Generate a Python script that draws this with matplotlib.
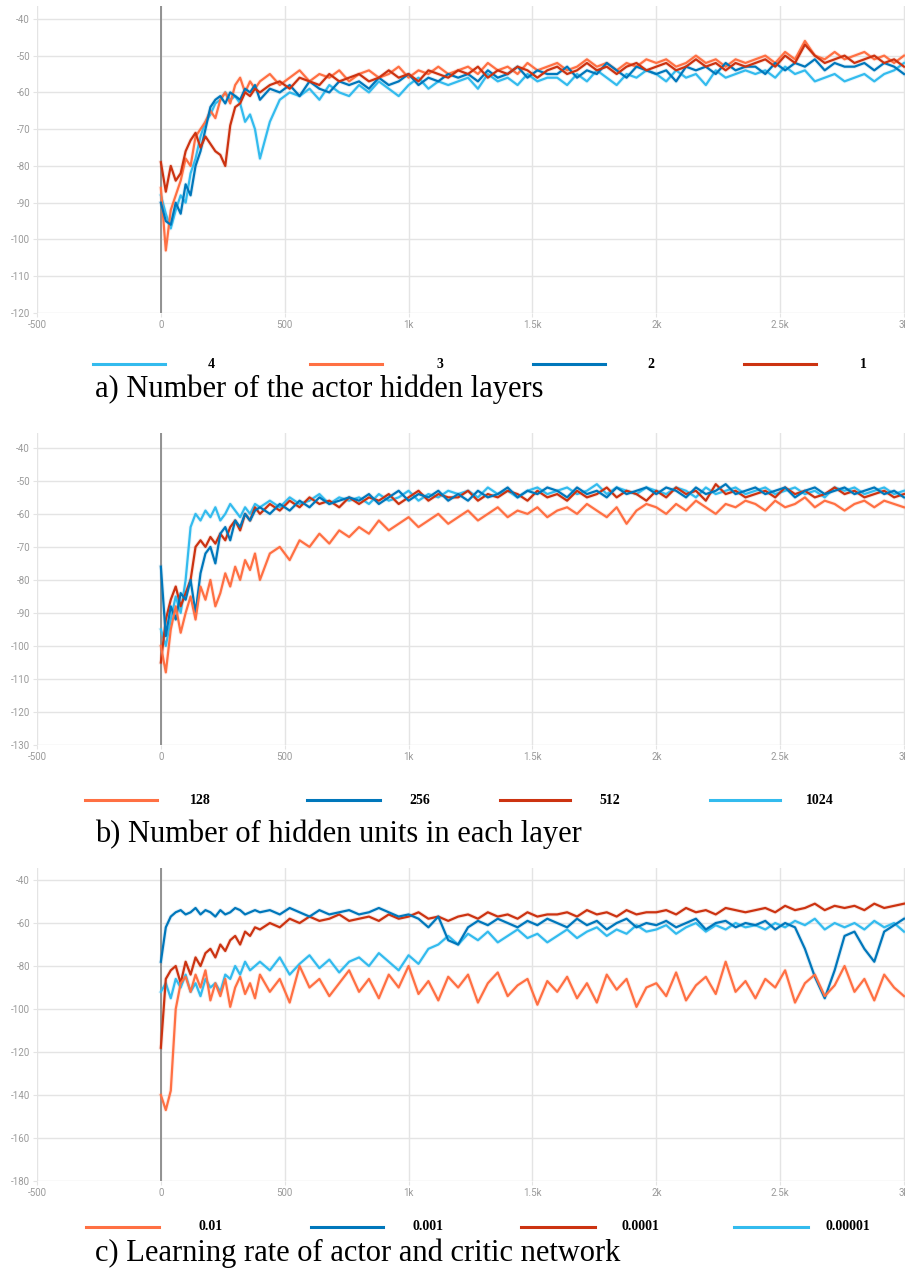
import numpy as np
import matplotlib
matplotlib.use("Agg")
import matplotlib.pyplot as plt
from matplotlib.lines import Line2D

# training steps (dense at start, then every 40 steps)
steps = np.r_[np.arange(0, 400, 20), np.arange(400, 3001, 40)]

# ---- a) number of actor hidden layers ----
a_labels = ["4", "3", "2", "1"]
a_layers4 = [-88, -93, -97, -92, -88, -90, -82, -78, -72, -68, -66, -63, -62, -60, -62, -61, -63, -68, -66, -70,
             -78, -68, -62, -60, -61, -59, -62, -58, -60, -61,
             -58, -60, -57, -59, -61, -58, -56, -59, -57, -58,
             -57, -56, -59, -55, -57, -56, -58, -55, -57, -56,
             -56, -58, -55, -57, -54, -56, -58, -55, -56, -54,
             -55, -57, -54, -56, -55, -58, -54, -56, -55, -54,
             -55, -54, -56, -53, -55, -54, -57, -56, -55, -57,
             -56, -55, -57, -55, -54, -52]
a_layers3 = [-86, -103, -92, -88, -84, -78, -80, -72, -70, -68, -65, -67, -62, -60, -63, -58, -56, -60, -57, -59,
             -57, -55, -58, -56, -54, -57, -55, -56, -54, -57,
             -55, -54, -56, -55, -53, -56, -54, -55, -53, -55,
             -54, -53, -55, -52, -54, -53, -55, -52, -54, -53,
             -52, -54, -53, -51, -53, -52, -54, -52, -53, -51,
             -52, -51, -53, -52, -50, -52, -51, -53, -51, -52,
             -51, -50, -52, -49, -51, -46, -50, -51, -49, -51,
             -50, -49, -51, -50, -52, -50]
a_layers2 = [-90, -95, -96, -90, -93, -85, -88, -80, -76, -70, -64, -62, -61, -63, -60, -61, -62, -59, -60, -58,
             -62, -59, -60, -58, -61, -57, -59, -60, -57, -58,
             -57, -59, -56, -58, -57, -55, -58, -56, -57, -55,
             -56, -55, -57, -54, -56, -55, -53, -56, -54, -55,
             -55, -53, -56, -54, -55, -52, -54, -56, -53, -54,
             -55, -54, -57, -53, -54, -53, -55, -52, -54, -53,
             -53, -55, -52, -54, -52, -53, -51, -54, -52, -53,
             -53, -52, -54, -52, -53, -55]
a_layers1 = [-79, -87, -80, -84, -82, -76, -73, -71, -75, -72, -74, -76, -77, -80, -69, -64, -63, -60, -61, -59,
             -60, -58, -57, -59, -56, -57, -58, -55, -57, -56,
             -55, -57, -56, -54, -56, -55, -57, -54, -55, -56,
             -54, -55, -53, -56, -54, -55, -53, -54, -56, -54,
             -53, -55, -54, -52, -54, -53, -55, -53, -52, -54,
             -53, -52, -54, -53, -51, -53, -52, -54, -52, -53,
             -52, -51, -53, -50, -52, -47, -50, -52, -51, -50,
             -52, -51, -50, -52, -51, -53]

# ---- b) number of hidden units ----
b_labels = ["128", "256", "512", "1024"]
b_u128 = [-100, -108, -95, -88, -96, -90, -85, -92, -82, -86, -80, -88, -84, -78, -82, -76, -80, -74, -77, -72,
          -80, -72, -70, -74, -68, -70, -66, -69, -65, -67,
          -64, -66, -62, -65, -63, -61, -64, -62, -60, -63,
          -61, -59, -62, -60, -58, -61, -59, -60, -58, -61,
          -59, -58, -60, -57, -59, -61, -58, -63, -59, -57,
          -58, -60, -57, -59, -56, -58, -60, -57, -58, -56,
          -57, -59, -56, -58, -57, -55, -58, -56, -57, -59,
          -57, -56, -58, -56, -57, -58]
b_u256 = [-76, -97, -88, -92, -84, -86, -80, -90, -78, -72, -70, -75, -66, -64, -68, -62, -64, -60, -62, -59,
          -58, -60, -57, -59, -56, -58, -55, -57, -56, -55,
          -56, -54, -57, -55, -53, -56, -54, -55, -53, -56,
          -54, -56, -53, -55, -54, -52, -55, -53, -54, -52,
          -53, -55, -52, -54, -53, -55, -52, -54, -53, -52,
          -54, -52, -53, -55, -52, -54, -53, -51, -54, -53,
          -52, -54, -53, -52, -55, -53, -52, -54, -53, -52,
          -54, -53, -52, -54, -53, -55]
b_u512 = [-105, -92, -86, -82, -88, -84, -80, -70, -68, -70, -67, -69, -66, -68, -64, -62, -65, -60, -62, -58,
          -60, -57, -59, -56, -58, -55, -57, -56, -58, -55,
          -57, -55, -56, -54, -57, -55, -53, -56, -54, -55,
          -55, -53, -56, -54, -55, -53, -54, -56, -53, -55,
          -54, -56, -53, -55, -54, -52, -55, -53, -54, -56,
          -53, -55, -52, -54, -53, -56, -51, -54, -53, -55,
          -54, -53, -55, -52, -54, -53, -55, -54, -52, -54,
          -53, -55, -54, -53, -55, -54]
b_u1024 = [-95, -100, -92, -85, -90, -80, -64, -60, -62, -59, -61, -58, -62, -60, -57, -59, -61, -58, -60, -57,
           -58, -56, -58, -55, -57, -56, -54, -57, -55, -56,
           -55, -57, -54, -56, -55, -53, -56, -54, -55, -53,
           -54, -53, -55, -52, -54, -53, -55, -53, -52, -54,
           -53, -52, -54, -53, -51, -54, -52, -53, -54, -52,
           -53, -54, -52, -53, -55, -52, -54, -53, -52, -54,
           -53, -52, -54, -53, -52, -54, -53, -55, -52, -53,
           -52, -54, -53, -52, -54, -53]

# ---- c) learning rate ----
c_labels = ["0.01", "0.001", "0.0001", "0.00001"]
c_lr1e2 = [-140, -147, -138, -100, -88, -85, -92, -84, -90, -82, -96, -88, -94, -86, -99, -90, -85, -93, -88, -95,
           -84, -92, -86, -97, -80, -90, -86, -94, -88, -82,
           -92, -86, -95, -84, -90, -80, -93, -87, -96, -85,
           -90, -84, -97, -88, -83, -94, -89, -86, -98, -87,
           -92, -85, -95, -88, -97, -84, -91, -86, -99, -90,
           -88, -94, -83, -96, -89, -85, -93, -78, -92, -87,
           -95, -86, -90, -82, -97, -88, -84, -94, -89, -80,
           -92, -86, -96, -84, -90, -94]
c_lr1e3 = [-78, -62, -57, -55, -54, -56, -55, -53, -56, -54, -55, -57, -54, -56, -55, -53, -54, -56, -55, -54,
           -55, -54, -56, -53, -55, -57, -54, -56, -55, -54,
           -56, -55, -53, -55, -57, -56, -58, -62, -57, -68,
           -70, -62, -59, -61, -58, -60, -62, -59, -61, -58,
           -60, -62, -58, -61, -59, -63, -60, -58, -62, -60,
           -61, -59, -62, -60, -58, -63, -60, -59, -62, -60,
           -61, -59, -63, -60, -62, -72, -85, -95, -82, -66,
           -64, -72, -78, -64, -61, -58]
c_lr1e4 = [-118, -86, -82, -80, -88, -78, -84, -76, -80, -74, -72, -76, -70, -73, -68, -66, -70, -64, -66, -62,
           -63, -60, -62, -58, -60, -57, -59, -58, -56, -59,
           -58, -57, -59, -56, -58, -57, -55, -58, -57, -59,
           -57, -56, -58, -55, -57, -56, -58, -55, -57, -56,
           -56, -55, -57, -54, -56, -55, -57, -54, -56, -55,
           -55, -54, -56, -53, -55, -54, -56, -53, -54, -55,
           -54, -53, -55, -52, -54, -53, -51, -54, -52, -53,
           -52, -54, -51, -53, -52, -51]
c_lr1e5 = [-92, -88, -95, -86, -90, -84, -92, -88, -94, -86, -90, -88, -92, -84, -86, -80, -84, -78, -82, -80,
           -78, -82, -76, -84, -79, -75, -81, -77, -83, -78,
           -76, -80, -74, -78, -82, -75, -79, -72, -70, -66,
           -70, -65, -68, -64, -69, -66, -63, -67, -65, -69,
           -66, -63, -67, -64, -62, -66, -63, -65, -61, -64,
           -63, -61, -65, -62, -60, -64, -61, -63, -60, -62,
           -61, -63, -60, -62, -59, -61, -58, -63, -60, -62,
           -60, -63, -59, -62, -60, -64]

x_ticks = [-500, 0, 500, 1000, 1500, 2000, 2500, 3000]
x_ticklabels = ["-500", "0", "500", "1k", "1.5k", "2k", "2.5k", "3k"]

CYAN, ORANGE, BLUE, RED = "#33bbee", "#ff7043", "#0077bb", "#cc3311"

W, H = 905, 1274
fig = plt.figure(figsize=(W / 100, H / 100), dpi=100)


def px_rect(left, top, right, bottom):
    return [left / W, 1 - bottom / H, (right - left) / W, (bottom - top) / H]


def make_panel(rect, ylim, yticks, series):
    ax = fig.add_axes(rect)
    for vals, col in series:
        ax.plot(steps, vals, color=col, lw=3.0, alpha=0.12, solid_joinstyle="round")
    for vals, col in series:
        ax.plot(steps, vals, color=col, lw=1.6, solid_joinstyle="round")
    ax.axvline(0, color="#8a8a8a", lw=1.3, zorder=1)
    ax.set_xlim(-500, 3004)
    ax.set_ylim(*ylim)
    ax.set_xticks(x_ticks)
    ax.set_xticklabels(x_ticklabels)
    ax.set_yticks(yticks)
    ax.set_yticklabels([str(v) for v in yticks])
    ax.grid(True, color="#e4e4e4", lw=1.0)
    ax.set_axisbelow(True)
    for s in ax.spines.values():
        s.set_visible(False)
    ax.tick_params(length=3, color="#e4e4e4", labelcolor="#9a9a9a", labelsize=7, pad=2)
    for t in ax.get_xticklabels() + ax.get_yticklabels():
        t.set_fontfamily("Roboto")
    return ax


make_panel(px_rect(37, 6, 905, 313), (-120, -36.5), list(range(-120, -39, 10)),
           [(a_layers4, CYAN), (a_layers3, ORANGE), (a_layers2, BLUE), (a_layers1, RED)])
make_panel(px_rect(37, 433, 905, 745), (-130, -35.5), list(range(-130, -39, 10)),
           [(b_u1024, CYAN), (b_u512, RED), (b_u256, BLUE), (b_u128, ORANGE)])
make_panel(px_rect(37, 868, 905, 1181), (-180, -34.4), list(range(-180, -39, 20)),
           [(c_lr1e5, CYAN), (c_lr1e4, RED), (c_lr1e3, BLUE), (c_lr1e2, ORANGE)])


def legend_row(y, items):
    for x0, x1, tx, col, lab in items:
        fig.add_artist(Line2D([x0 / W, x1 / W], [1 - y / H, 1 - y / H], color=col, lw=2.2,
                              transform=fig.transFigure))
        fig.text(tx / W, 1 - y / H, lab, ha="center", va="center", fontsize=10,
                 fontweight="bold", family="Liberation Serif")


legend_row(364, [(93, 165, 211, CYAN, a_labels[0]), (310, 382, 440, ORANGE, a_labels[1]),
                 (533, 605, 651, BLUE, a_labels[2]), (744, 816, 863, RED, a_labels[3])])
legend_row(800, [(85, 157, 200, ORANGE, b_labels[0]), (307, 380, 420, BLUE, b_labels[1]),
                 (500, 570, 610, RED, b_labels[2]), (710, 780, 820, CYAN, b_labels[3])])
legend_row(1227, [(86, 159, 211, ORANGE, c_labels[0]), (311, 383, 428, BLUE, c_labels[1]),
                  (521, 595, 640, RED, c_labels[2]), (734, 808, 848, CYAN, c_labels[3])])

cap_kw = dict(ha="left", va="center", fontsize=22, family="Liberation Serif")
fig.text(95 / W, 1 - 389 / H, "a) Number of the actor hidden layers", **cap_kw)
fig.text(95 / W, 1 - 834 / H, "b) Number of hidden units in each layer", **cap_kw)
fig.text(95 / W, 1 - 1253 / H, "c) Learning rate of actor and critic network", **cap_kw)

fig.savefig("out.png", dpi=100)
